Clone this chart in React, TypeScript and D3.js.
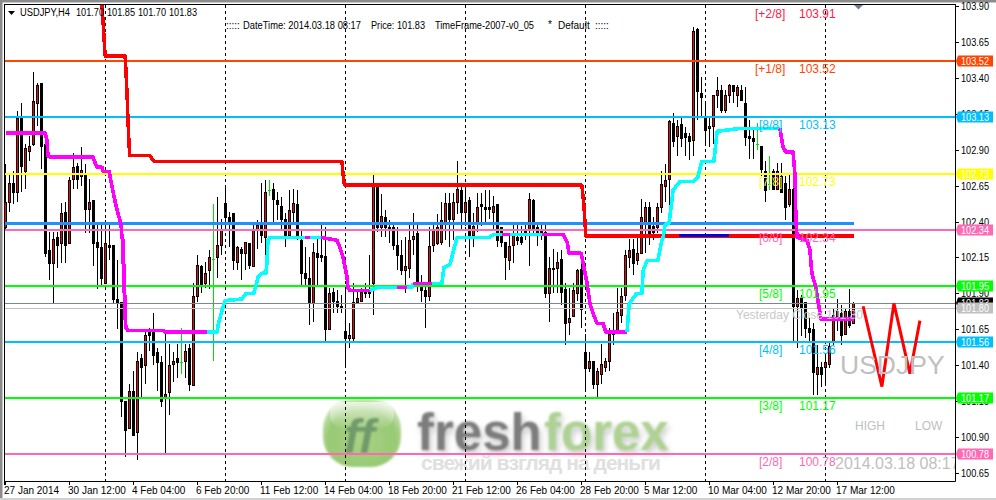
import React from "react";
import * as d3 from "d3";

const highs = [102.80,102.74,102.75,103.17,103.23,102.94,103.00,103.44,103.37,103.37,
102.94,102.33,102.33,102.33,102.53,102.54,102.71,102.88,102.81,102.92,
102.80,102.70,102.55,102.38,102.40,102.41,102.40,102.24,102.13,101.84,
101.15,101.27,101.36,101.49,101.48,101.64,101.66,101.76,101.52,101.46,
101.62,101.55,101.49,101.55,101.66,101.55,101.55,101.97,102.17,102.10,
102.12,102.20,102.52,102.57,102.42,102.65,102.47,102.46,102.23,102.22,
102.26,102.25,102.38,102.41,102.67,102.69,102.69,102.67,102.61,102.57,
102.46,102.62,102.63,102.62,102.34,102.22,102.15,102.25,102.29,102.40,
102.36,101.94,101.94,101.92,101.89,101.94,101.69,101.97,101.91,101.94,
101.97,102.17,102.74,102.67,102.59,102.48,102.41,102.39,102.36,102.27,
102.29,102.39,102.46,102.40,102.03,101.97,102.36,102.40,102.45,102.54,
102.60,102.60,102.60,102.82,102.64,102.64,102.57,102.46,102.60,102.60,
102.62,102.62,102.58,102.52,102.36,102.26,102.31,102.40,102.40,102.37,
102.40,102.60,102.56,102.40,102.40,102.40,102.15,102.21,102.19,102.20,
101.97,101.94,101.97,102.07,102.19,101.62,101.49,101.43,101.38,101.55,
101.45,101.66,101.76,101.94,101.94,102.20,102.28,102.28,102.29,102.56,
102.54,102.54,102.43,102.53,102.75,102.80,103.11,103.16,103.11,103.14,
103.06,103.02,103.76,103.75,103.41,103.23,103.14,103.28,103.41,103.35,
103.32,103.36,103.35,103.35,103.35,103.34,103.11,103.06,103.09,102.93,
102.82,102.86,102.77,102.81,102.81,102.72,102.74,102.81,101.92,101.89,
101.84,101.73,101.69,101.54,101.42,101.47,101.56,101.80,101.86,101.82,
101.80,101.93,101.84];

const lows = [102.35,102.47,102.52,102.54,102.61,102.63,102.82,102.93,103.07,102.77,
102.15,101.99,101.83,102.08,102.11,102.11,102.25,102.63,102.63,102.65,
102.32,102.32,102.09,101.93,101.96,101.97,102.13,101.83,101.65,101.04,
100.76,100.96,100.91,100.74,101.18,101.27,101.50,101.40,101.22,101.11,
100.79,101.05,101.28,101.31,101.34,101.31,101.22,101.26,101.84,101.90,
101.94,101.93,101.43,102.01,102.17,102.35,102.22,102.06,102.06,101.99,
102.06,102.07,102.09,102.21,102.25,102.13,102.58,102.40,102.41,102.34,
102.22,102.29,102.38,102.27,101.96,101.96,101.68,101.70,101.96,102.12,
101.57,101.65,101.76,101.76,101.76,101.38,101.52,101.56,101.83,101.84,
101.87,101.87,101.75,102.33,102.29,102.29,102.25,102.20,102.06,102.03,
101.90,102.01,102.17,101.91,101.84,101.66,101.85,102.19,102.24,102.24,
102.27,102.22,102.27,102.45,102.35,102.37,102.15,102.22,102.33,102.37,
102.40,102.42,102.34,102.22,102.22,101.99,102.06,102.11,102.24,102.24,
102.27,102.09,102.31,102.23,102.27,101.87,101.70,101.90,101.90,101.82,
101.54,101.61,101.74,101.85,101.66,101.22,101.35,101.23,101.18,101.27,
101.35,101.36,101.54,101.62,101.69,101.85,102.08,102.03,102.10,102.18,
102.18,102.24,102.27,102.32,102.46,102.54,102.45,102.92,102.86,102.92,
102.86,102.83,102.86,103.11,103.14,102.94,102.92,102.94,103.19,103.16,
103.16,103.23,103.23,103.20,103.25,102.93,102.84,102.84,102.90,102.72,
102.54,102.62,102.62,102.62,102.61,102.41,102.50,101.57,101.52,101.60,
101.59,101.56,101.19,101.19,101.25,101.26,101.38,101.54,101.64,101.54,
101.62,101.66,101.69];

const opens = [102.36,102.54,102.67,102.61,103.12,102.75,102.89,102.94,103.23,103.37,
102.94,102.20,102.11,102.29,102.25,102.47,102.25,102.70,102.79,102.72,
102.74,102.49,102.55,102.26,102.22,101.97,102.24,102.24,101.86,101.84,
101.15,100.96,101.22,100.93,101.45,101.40,101.64,101.63,101.49,101.42,
101.18,101.21,101.41,101.45,101.42,101.43,101.52,101.26,101.88,102.09,
101.97,102.06,102.14,102.15,102.24,102.53,102.43,102.46,102.12,102.21,
102.18,102.25,102.09,102.35,102.40,102.29,102.62,102.63,102.55,102.51,
102.42,102.31,102.47,102.52,102.27,102.04,102.01,101.83,102.18,102.17,
102.16,101.65,101.91,101.85,101.81,101.64,101.59,101.59,101.84,101.85,
101.92,101.91,101.97,102.64,102.36,102.43,102.36,102.36,102.24,102.17,
102.06,102.08,102.28,102.32,101.96,101.92,101.88,102.24,102.25,102.26,
102.40,102.53,102.42,102.54,102.62,102.47,102.55,102.31,102.39,102.52,
102.50,102.50,102.47,102.52,102.36,102.26,102.13,102.24,102.29,102.29,
102.34,102.34,102.55,102.36,102.34,102.33,101.90,102.08,102.08,102.14,
101.93,101.70,101.74,101.90,102.07,101.49,101.38,101.43,101.27,101.34,
101.39,101.43,101.62,101.64,101.75,101.89,102.15,102.21,102.13,102.18,
102.39,102.50,102.37,102.36,102.50,102.65,102.70,103.09,103.00,103.08,
103.02,103.00,102.97,103.74,103.30,103.14,103.05,103.07,103.28,103.32,
103.18,103.28,103.35,103.28,103.32,103.23,103.00,102.98,102.94,102.93,
102.75,102.66,102.75,102.63,102.72,102.67,102.52,102.63,101.81,101.87,
101.84,101.66,101.65,101.34,101.39,101.39,101.41,101.56,101.74,101.76,
101.62,101.78,101.69];

const closes = [102.54,102.67,102.61,103.12,102.79,102.91,102.93,103.24,103.35,102.93,
102.18,102.11,102.28,102.24,102.46,102.24,102.69,102.78,102.70,102.76,
102.49,102.54,102.25,102.22,102.01,102.25,102.22,101.86,101.84,101.15,
100.95,101.22,100.91,101.43,101.39,101.61,101.61,101.47,101.42,101.15,
101.20,101.40,101.43,101.42,101.42,101.50,101.27,101.88,102.10,101.96,
102.04,102.15,102.14,102.24,102.35,102.43,102.40,102.13,102.22,102.18,
102.26,102.10,102.34,102.38,102.31,102.61,102.62,102.56,102.52,102.42,
102.31,102.48,102.53,102.29,102.04,102.01,101.83,102.19,102.15,102.15,
101.65,101.90,101.85,101.81,101.80,101.59,101.61,101.84,101.87,101.91,
101.90,101.90,102.65,102.36,102.44,102.36,102.35,102.24,102.17,102.06,
102.09,102.27,102.30,101.97,101.92,101.88,102.23,102.34,102.36,102.41,
102.53,102.42,102.54,102.63,102.47,102.54,102.31,102.37,102.50,102.51,
102.49,102.49,102.51,102.27,102.26,102.15,102.23,102.31,102.27,102.26,
102.32,102.56,102.35,102.33,102.32,101.90,102.08,102.07,102.12,101.91,
101.69,101.73,101.92,102.06,101.79,101.38,101.43,101.27,101.36,101.41,
101.43,101.62,101.64,101.77,101.88,102.17,102.20,102.11,102.18,102.43,
102.50,102.29,102.33,102.50,102.66,102.69,103.10,102.96,103.07,102.98,
102.99,102.96,103.73,103.31,103.27,103.04,103.07,103.28,103.32,103.18,
103.28,103.35,103.31,103.34,103.25,102.99,102.98,102.96,102.94,102.77,
102.62,102.66,102.63,102.75,102.61,102.50,102.63,101.81,101.87,101.80,
101.66,101.63,101.35,101.39,101.34,101.42,101.53,101.75,101.78,101.61,
101.78,101.68,101.83];

// Trailing-stop style line: bar position, price
const trendBars = [0,9.9,10.4,10.6,11.1,21.9,22.4,22.9,24.1,24.4,25.9,26.6,27.4,28.1,28.9,29.1,29.4,29.4,29.6,29.6,29.9,29.9,30.1,30.6,39.4,39.9,50.4,52.9,53.1,54.1,54.9,59.1,60.1,62.1,63.1,64.1,65.1,65.4,65.6,66.1,74.9,76.1,78.9,82.9,83.6,84.4,85.4,85.6,86.1,91.1,92.9,97.9,100.4,101.6,101.9,106.6,109.1,109.6,111.1,111.9,112.9,113.1,121.1,121.9,124.1,126.1,134.1,139.4,140.4,140.9,143.9,144.4,145.4,146.1,146.9,147.9,149.4,150.1,155.4,155.5,155.9,156.9,157.9,159.1,159.4,160.4,163.1,164.1,164.4,164.9,165.9,166.9,168.6,171.9,173.1,174.1,177.1,177.9,183.6,184.1,193.6,194.4,195.1,196.9,197.4,197.6,197.9,200.4,201.1,201.6,202.6,203.4,203.9,212.1];
const trendPrices = [103.02,103.02,102.96,102.86,102.85,102.85,102.81,102.78,102.78,102.75,102.75,102.65,102.54,102.46,102.38,102.29,102.27,102.11,102.10,101.92,101.87,101.73,101.66,101.64,101.64,101.63,101.63,101.63,101.67,101.78,101.85,101.86,101.90,101.90,102.01,102.04,102.04,102.13,102.27,102.29,102.29,102.29,102.29,102.27,102.22,102.15,102.01,101.94,101.92,101.92,101.94,101.94,101.94,101.945,101.97,101.97,101.97,102.08,102.10,102.19,102.29,102.29,102.29,102.31,102.31,102.31,102.31,102.31,102.26,102.18,102.18,102.11,101.97,101.83,101.76,101.69,101.69,101.63,101.63,101.67,101.82,101.87,101.90,101.90,102.06,102.13,102.13,102.27,102.29,102.38,102.39,102.62,102.68,102.68,102.71,102.82,102.82,103.03,103.05,103.05,103.05,102.92,102.885,102.885,102.71,102.41,102.29,102.27,102.20,102.04,101.94,101.80,101.72,101.72];
const magentaFrom = [0,74.9,78.9,97.9,101.9,124.1,134.1,193.6];
const magentaTo = [50.4,76.1,91.1,100.4,106.6,126.1,155.4,212.1];

const stopBars = [24.1,24.6,24.9,29.9,30.1,30.4,30.6,30.9,31.1,36.1,37.1,84.1,84.6,84.9,144.1,144.6,145.1,212.1];
const stopPrices = [103.92,103.70,103.555,103.555,103.46,103.28,103.12,102.93,102.86,102.86,102.82,102.82,102.67,102.655,102.655,102.51,102.30,102.30];
const stopBlueFrom = 168.4;
const stopBlueTo = 180.9;

const zigzagBars = [214.4,219.1,222.1,226.1,228.6];
const zigzagPrices = [101.81,101.25,101.83,101.34,101.71];

const weekBars = [25,55,85,115,145,175,205];

const levelPrices = [103.52,103.13,102.73,102.34,101.95,101.56,101.17,100.78];
const levelColours = ["#ff4500","#00bfff","#ffff00","#ff69b4","#00ff00","#00bfff","#00ff00","#ff69b4"];

const murrayNames = ["[+2/8]","[+1/8]","[8/8]","[7/8]","[6/8]","[5/8]","[4/8]","[3/8]","[2/8]"];
const murrayPrices = [103.91,103.52,103.13,102.73,102.34,101.95,101.56,101.17,100.78];
const murrayColours = ["#ff1744","#ff4500","#00bfff","#ffff00","#ff69b4","#00ff00","#00bfff","#00ff00","#ff69b4"];

const axisPrices = [103.90,103.65,103.40,103.15,102.90,102.65,102.40,102.15,101.90,101.65,101.40,101.15,100.90,100.65];
const axisDates = ["27 Jan 2014","30 Jan 12:00","4 Feb 04:00","6 Feb 20:00","11 Feb 12:00","14 Feb 04:00","18 Feb 20:00","21 Feb 12:00","26 Feb 04:00","28 Feb 20:00","5 Mar 12:00","10 Mar 04:00","12 Mar 20:00","17 Mar 12:00"];

const x = d3.scaleLinear().domain([0, 1]).range([5.5, 9.5]);
const y = d3.scaleLinear().domain([103.52, 100.78]).range([61, 454]);
const ry = (p: number) => Math.round(y(p));
const FONT = "'Liberation Sans', Arial, sans-serif";

const pathOf = (pts: [number, number][]) =>
  d3.line<[number, number]>().x((d) => x(d[0])).y((d) => y(d[1]))(pts) ?? "";

const trendPts = trendBars.map((b, i) => [b, trendPrices[i]] as [number, number]);
const isMag = (b: number) => magentaFrom.some((f, k) => b >= f && b < magentaTo[k]);
function trendRuns() {
  const runs: { mag: boolean; pts: [number, number][] }[] = [];
  for (let i = 0; i < trendPts.length - 1; i++) {
    const mag = isMag(trendPts[i][0]);
    const last = runs[runs.length - 1];
    if (last && last.mag === mag) last.pts.push(trendPts[i + 1]);
    else runs.push({ mag, pts: [trendPts[i], trendPts[i + 1]] });
  }
  return runs;
}

function Candle({ i }: { i: number }) {
  const cx = x(i);
  const o = opens[i], c = closes[i];
  const top = ry(Math.max(o, c)), bot = ry(Math.min(o, c));
  if (o === c) {
    return (
      <g stroke="#00e000" strokeWidth={1}>
        <line x1={cx} x2={cx} y1={ry(highs[i])} y2={ry(lows[i])} />
        <line x1={cx - 1.5} x2={cx + 1.5} y1={top + 0.5} y2={top + 0.5} />
      </g>
    );
  }
  return (
    <g>
      <line x1={cx} x2={cx} y1={ry(highs[i])} y2={ry(lows[i])} stroke="#000" />
      {c > o ? (
        <rect x={cx - 1} y={top + 0.5} width={2} height={Math.max(bot - top, 1)} fill="#ff0000" stroke="#000" />
      ) : (
        <rect x={cx - 1.5} y={top} width={3} height={Math.max(bot - top + 1, 2)} fill="#000" />
      )}
    </g>
  );
}

export default function App() {
  const t = { fontFamily: FONT };
  const tags = [
    { p: 103.52, c: "#ff4500" }, { p: 103.13, c: "#00bfff" }, { p: 102.73, c: "#ffff00" }, { p: 102.34, c: "#ff69b4" },
    { p: 101.95, c: "#00ff00" }, { p: 101.83, c: "#000000" }, { p: 101.80, c: "#c0c0c0" }, { p: 101.56, c: "#00bfff" },
    { p: 101.17, c: "#00ff00" }, { p: 100.78, c: "#ff69b4" },
  ];
  return (
    <svg width={996} height={500} viewBox="0 0 996 500" style={{ position: "fixed", left: 0, top: 0, display: "block" }}>
      <defs>
        <clipPath id="plot"><rect x={5} y={5} width={950} height={476} /></clipPath>
        <filter id="soft" x="-10%" y="-10%" width="120%" height="120%"><feGaussianBlur stdDeviation={0.8} /></filter>
        <filter id="dropped" x="-10%" y="-30%" width="125%" height="170%">
          <feGaussianBlur in="SourceGraphic" stdDeviation={0.8} result="sharp" />
          <feGaussianBlur in="SourceAlpha" stdDeviation={3} result="blur" />
          <feOffset in="blur" dx={2} dy={4} result="off" />
          <feFlood floodColor="#9a9a9a" floodOpacity={0.55} />
          <feComposite in2="off" operator="in" result="shade" />
          <feMerge><feMergeNode in="shade" /><feMergeNode in="sharp" /></feMerge>
        </filter>
        <radialGradient id="ball" cx="50%" cy="60%" r="62%">
          <stop offset="0%" stopColor="#a9d384" />
          <stop offset="70%" stopColor="#98c973" />
          <stop offset="100%" stopColor="#d2e7c0" />
        </radialGradient>
        <linearGradient id="shine" x1="0" x2="0" y1="0" y2="1">
          <stop offset="0%" stopColor="#ffffff" stopOpacity={0.7} />
          <stop offset="100%" stopColor="#ffffff" stopOpacity={0.05} />
        </linearGradient>
      </defs>
      <rect width={996} height={500} fill="#ffffff" />
      <rect x={0} y={0} width={996} height={2.5} fill="#8c8c8c" />
      <rect x={0} y={0} width={2.5} height={500} fill="#8c8c8c" />
      <rect x={0} y={498} width={996} height={2} fill="#d0d0d0" />

      <g clipPath="url(#plot)">
        {/* watermark */}
        <rect x={323} y={399} width={78} height={68} rx={30} fill="url(#ball)" filter="url(#soft)" />
        <rect x={330} y={402} width={64} height={26} rx={13} fill="url(#shine)" />
        <text x={344} y={453} fontSize={48} fontStyle="italic" fontWeight={700} fill="#6f9a6c" filter="url(#soft)" style={t}>ff</text>
        <text x={417} y={450} fontSize={51} fontWeight={700} fill="#7d7d7d" filter="url(#dropped)" style={t}>fresh</text>
        <text x={544} y={450} fontSize={51} fontWeight={700} fill="#aed293" filter="url(#dropped)" style={t}>forex</text>
        <text x={421} y={470} fontSize={21} fill="#e0e0e0" textLength={240} lengthAdjust="spacing" fontWeight={700} style={t}>свежий взгляд на деньги</text>

        {/* period separators */}
        {weekBars.map((b) => (
          <line key={b} x1={x(b)} x2={x(b)} y1={5} y2={481} stroke="#000" strokeDasharray="3 3" />
        ))}

        {opens.map((_, i) => <Candle key={i} i={i} />)}

        {/* levels */}
        <line x1={5} x2={x(212.1)} y1={y(102.39)} y2={y(102.39)} stroke="#1e90ff" strokeWidth={3} shapeRendering="crispEdges" />
        {levelPrices.map((p, i) => (
          <line key={p} x1={5} x2={955} y1={ry(p)} y2={ry(p)} stroke={levelColours[i]} strokeWidth={2} shapeRendering="crispEdges" />
        ))}
        <line x1={5} x2={955} y1={ry(101.83) + 0.5} y2={ry(101.83) + 0.5} stroke="#778899" />
        <line x1={5} x2={955} y1={ry(101.80) + 0.5} y2={ry(101.80) + 0.5} stroke="#c0c0c0" />

        {/* indicators */}
        <path d={pathOf(stopBars.map((b, i) => [b, stopPrices[i]]))} fill="none" stroke="#ff0000" strokeWidth={3.5} strokeLinejoin="round" shapeRendering="crispEdges" />
        <line x1={x(stopBlueFrom)} x2={x(stopBlueTo)} y1={y(102.30)} y2={y(102.30)} stroke="#0000dd" strokeWidth={3} shapeRendering="crispEdges" />
        {trendRuns().map((r, i) => (
          <path key={i} d={pathOf(r.pts)} fill="none" stroke={r.mag ? "#ff00ff" : "#00ffff"} strokeWidth={3.6} strokeLinejoin="round" shapeRendering="crispEdges" />
        ))}
        <path d={pathOf(zigzagBars.map((b, i) => [b, zigzagPrices[i]]))} fill="none" stroke="#ff0000" strokeWidth={3} />

        {/* Murrey labels */}
        {murrayNames.map((n, i) => {
          const base = Math.max(ry(murrayPrices[i]), 6) + 12;
          return (
            <g key={n} fontSize={12} fill={murrayColours[i]} style={t}>
              <text x={n.startsWith("[+") ? 755 : 759} y={base}>{n}</text>
              <text x={799} y={base}>{murrayPrices[i].toFixed(2)}</text>
            </g>
          );
        })}
        <text x={736} y={319} fontSize={12} fill="#c8c8c8" style={t}>Yesterday Close 101.80</text>
        <text x={840} y={374} fontSize={26.5} fill="#c0c0c0" style={t}>USDJPY</text>
        <text x={855} y={430} fontSize={12} fill="#c0c0c0" style={t}>HIGH</text>
        <text x={915} y={430} fontSize={12} fill="#c0c0c0" style={t}>LOW</text>
        <text x={835} y={469} fontSize={16} fill="#c0c0c0" style={t}>2014.03.18 08:17</text>

        <polygon points="854,5 863,5 858.5,9.5" fill="#708090" />
      </g>

      {/* frame */}
      <line x1={4.5} x2={4.5} y1={4} y2={485} stroke="#000" />
      <line x1={4} x2={955.5} y1={4.5} y2={4.5} stroke="#000" />
      <line x1={955.5} x2={955.5} y1={4} y2={481.5} stroke="#000" />
      <line x1={4} x2={955.5} y1={481.5} y2={481.5} stroke="#000" />

      {/* price axis */}
      {axisPrices.map((p) => (
        <g key={p}>
          <line x1={956} x2={959} y1={ry(p) + 0.5} y2={ry(p) + 0.5} stroke="#000" />
          <text x={961} y={ry(p) + 4} fontSize={10} textLength={28} lengthAdjust="spacingAndGlyphs" fill="#000" style={t}>{p.toFixed(2)}</text>
        </g>
      ))}
      {tags.map(({ p, c }) => {
        const yy = ry(p);
        return (
          <g key={p}>
            <path d={`M956,${yy} L958,${yy - 5.5} L993,${yy - 5.5} L993,${yy + 5.5} L958,${yy + 5.5} Z`} fill={c} />
            <text x={961} y={yy + 4} fontSize={10} textLength={28} lengthAdjust="spacingAndGlyphs" fill="#fff" style={t}>{p.toFixed(2)}</text>
          </g>
        );
      })}

      {/* time axis */}
      {axisDates.map((d, i) => (
        <g key={d}>
          <line x1={x(i * 16)} x2={x(i * 16)} y1={482} y2={485} stroke="#000" />
          <text x={x(i * 16) - 1.5} y={494} fontSize={10} fill="#000" style={t}>{d}</text>
        </g>
      ))}

      {/* header */}
      <polygon points="8,11 15,11 11.5,15" fill="#000" />
      <g fontSize={10} fill="#000" style={t}>
        <text x={20} y={16} textLength={50} lengthAdjust="spacingAndGlyphs">USDJPY,H4</text>
        <text x={76} y={16} textLength={28} lengthAdjust="spacingAndGlyphs">101.70</text>
        <text x={107} y={16} textLength={28} lengthAdjust="spacingAndGlyphs">101.85</text>
        <text x={138} y={16} textLength={28} lengthAdjust="spacingAndGlyphs">101.70</text>
        <text x={169} y={16} textLength={28} lengthAdjust="spacingAndGlyphs">101.83</text>
        <text x={226} y={29}>:::::</text>
        <text x={243} y={29} textLength={118} lengthAdjust="spacingAndGlyphs">DateTime: 2014.03.18 08:17</text>
        <text x={371} y={29} textLength={54} lengthAdjust="spacingAndGlyphs">Price: 101.83</text>
        <text x={435} y={29} textLength={99} lengthAdjust="spacingAndGlyphs">TimeFrame-2007-v0_05</text>
        <text x={548} y={28}>*</text>
        <text x={558} y={29}>Default</text>
        <text x={595} y={29}>:::::</text>
      </g>
    </svg>
  );
}
